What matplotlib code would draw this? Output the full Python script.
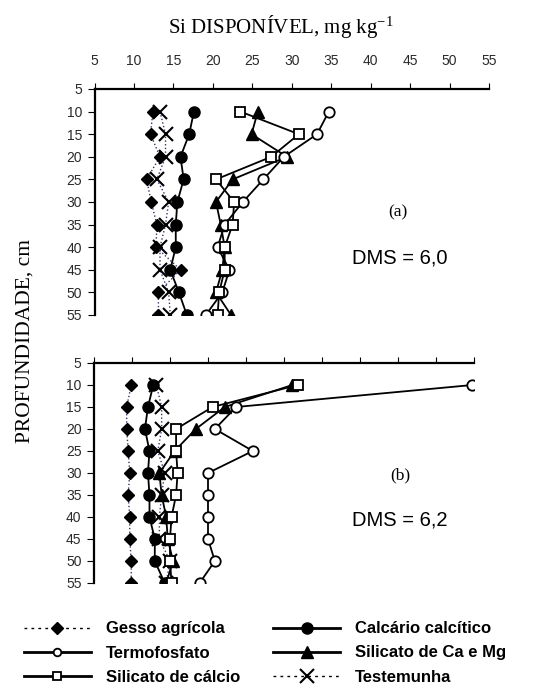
import matplotlib.pyplot as plt
from matplotlib.lines import Line2D

plt.rcParams['font.family'] = ['Liberation Sans', 'DejaVu Sans']
plt.rcParams['mathtext.fontset'] = 'custom'
plt.rcParams['mathtext.rm'] = 'Liberation Serif'
plt.rcParams['mathtext.default'] = 'rm'

# profundidade (cm)
prof = [10, 15, 20, 25, 30, 35, 40, 45, 50, 55]

# (a) Si disponivel, mg/kg
gesso_a = [12.4, 12.1, 13.3, 11.6, 12.2, 12.9, 12.8, 15.9, 13.1, 13.1]
calcario_a = [17.6, 17.0, 15.9, 16.3, 15.5, 15.3, 15.3, 14.6, 15.7, 16.7]
termo_a = [34.7, 33.2, 29.0, 26.4, 23.8, 21.5, 20.6, 22.1, 21.2, 19.1]
silca_a = [25.7, 24.9, 29.4, 22.5, 20.4, 21.0, 21.5, 21.2, 20.4, 22.3]
silcal_a = [23.5, 30.9, 27.4, 20.4, 22.7, 22.5, 21.5, 21.5, 20.8, 20.6]
testem_a = [13.3, 14.0, 14.0, 12.9, 14.4, 14.0, 13.3, 13.3, 14.4, 14.6]

# (b)
gesso_b = [9.9, 9.3, 9.3, 9.5, 9.7, 9.5, 9.7, 9.7, 9.9, 9.9]
calcario_b = [12.8, 12.1, 11.7, 12.3, 12.1, 12.3, 12.3, 13.0, 13.0, 14.3]
termo_b = [54.8, 23.7, 20.9, 25.9, 20.0, 20.0, 20.0, 20.0, 20.9, 18.9]
silca_b = [31.1, 22.2, 18.4, 15.6, 13.6, 13.9, 14.5, 14.7, 15.4, 14.5]
silcal_b = [31.8, 20.6, 15.8, 15.8, 16.0, 15.8, 15.2, 15.0, 15.0, 15.2]
testem_b = [13.2, 13.9, 13.9, 13.4, 14.3, 13.9, 13.6, 13.6, 15.0, 14.5]

nomes = ['Gesso agrícola', 'Termofosfato', 'Silicato de cálcio',
         'Calcário calcítico', 'Silicato de Ca e Mg', 'Testemunha']
ticks = [5, 10, 15, 20, 25, 30, 35, 40, 45, 50, 55]

W, H = 553, 686


def fx(px):
    return px / W


def fy(py):
    return 1 - py / H


# estilos das series
estilos = {
    'gesso': dict(ls=':', lw=1.0, color='#333366', marker='D', ms=6, mfc='black', mec='black'),
    'termo': dict(ls='-', lw=1.3, color='black', marker='o', ms=7.5, mfc='white', mec='black', mew=1.3),
    'silcal': dict(ls='-', lw=1.3, color='black', marker='s', ms=7.5, mfc='white', mec='black', mew=1.3),
    'calcario': dict(ls='-', lw=1.3, color='black', marker='o', ms=8, mfc='black', mec='black'),
    'silca': dict(ls='-', lw=1.3, color='black', marker='^', ms=8.5, mfc='black', mec='black'),
    'testem': dict(ls=':', lw=1.0, color='#333366', marker='x', ms=10, mec='black', mew=1.5),
}

fig = plt.figure(figsize=(5.53, 6.86), dpi=100)
ax_a = fig.add_axes([fx(94.5), fy(315), (489 - 94.5) / W, (315 - 89) / H])
ax_b = fig.add_axes([fx(94), fy(583), (474 - 94) / W, (583 - 363) / H])

dados = [
    (ax_a, gesso_a, termo_a, silcal_a, calcario_a, silca_a, testem_a),
    (ax_b, gesso_b, termo_b, silcal_b, calcario_b, silca_b, testem_b),
]

for ax, g, t, sc, c, sm, te in dados:
    ax.plot(g, prof, **estilos['gesso'], zorder=3)
    ax.plot(te, prof, **estilos['testem'], zorder=3)
    ax.plot(c, prof, **estilos['calcario'], zorder=4)
    ax.plot(t, prof, **estilos['termo'], zorder=5)
    ax.plot(sc, prof, **estilos['silcal'], zorder=5)
    ax.plot(sm, prof, **estilos['silca'], zorder=4)

    ax.set_xlim(5, 55)
    ax.set_ylim(55, 5)
    ax.set_xticks(ticks)
    ax.set_yticks(ticks)
    ax.spines['right'].set_visible(False)
    ax.spines['bottom'].set_visible(False)
    ax.spines['left'].set_linewidth(1.6)
    ax.spines['top'].set_linewidth(1.6)
    ax.xaxis.set_ticks_position('top')
    ax.tick_params(axis='x', direction='out', length=4, width=0.8, pad=11,
                   labelsize=10, labelcolor='#2a2a2a')
    ax.tick_params(axis='y', direction='out', length=5, width=0.8, pad=4,
                   labelsize=10, labelcolor='#2a2a2a')

ax_b.tick_params(axis='x', labeltop=False)

fig.text(fx(281), fy(27), 'Si DISPONÍVEL, mg kg$^{-1}$', family='Liberation Serif',
         fontsize=15, ha='center', va='center')
fig.text(fx(25), fy(341), 'PROFUNDIDADE, cm', family='Liberation Serif', fontsize=15.5,
         rotation=90, ha='center', va='center')

fig.text(fx(398), fy(212), '(a)', family='Liberation Serif', fontsize=12.5, ha='center', va='center')
fig.text(fx(400), fy(258), 'DMS = 6,0', fontsize=14.5, ha='center', va='center')
fig.text(fx(400), fy(475), '(b)', family='Liberation Serif', fontsize=12.5, ha='center', va='center')
fig.text(fx(400), fy(520), 'DMS = 6,2', fontsize=14.5, ha='center', va='center')

# legenda
hs = []
for k in ['gesso', 'termo', 'silcal', 'calcario', 'silca', 'testem']:
    st = dict(estilos[k])
    if k in ('gesso', 'testem'):
        st['ls'] = (0, (2, 3))
        st['color'] = 'black'
    else:
        st['lw'] = 2.0
    if k in ('termo', 'silcal'):
        st['ms'] = 5.5
    hs.append(Line2D([], [], **st))

fig.legend(hs, nomes, ncol=2, loc='center', bbox_to_anchor=(fx(265), fy(653)),
           frameon=False, prop=dict(weight='bold', size=12), handlelength=4,
           handletextpad=0.9, columnspacing=2.0, labelspacing=0.55)

plt.savefig('out.png', dpi=100)
